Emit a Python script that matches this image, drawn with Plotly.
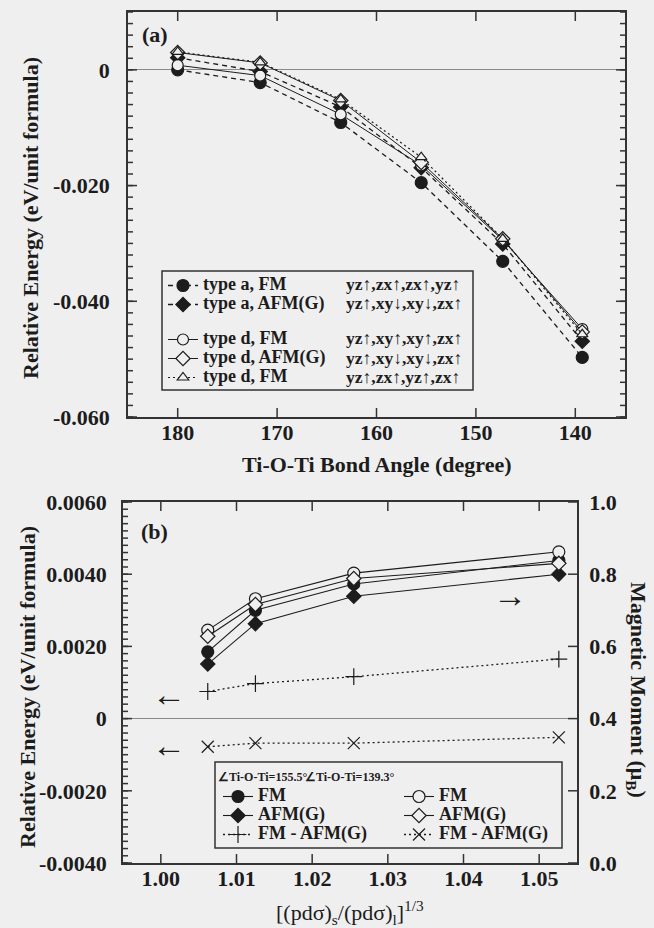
import plotly.graph_objects as go

# ---------------- data ----------------
# panel (a): relative energy vs Ti-O-Ti bond angle
angle = [180.0, 171.7, 163.6, 155.5, 147.3, 139.3]
a_fm = [0.0000, -0.0022, -0.0091, -0.0195, -0.0331, -0.0497]
a_afm = [0.0021, -0.0003, -0.0064, -0.0169, -0.0301, -0.0469]
d_fm = [0.0008, -0.0010, -0.0077, -0.0165, -0.0294, -0.0448]
d_afm = [0.0030, 0.0012, -0.0053, -0.0160, -0.0292, -0.0453]
d_fm2 = [0.0031, 0.0013, -0.0051, -0.0151, -0.0292, -0.0457]

names_a = ["type a, FM", "type a, AFM(G)", "type d, FM", "type d, AFM(G)", "type d, FM"]
orbitals_a = ["yz↑,zx↑,zx↑,yz↑", "yz↑,xy↓,xy↓,zx↑", "yz↑,xy↑,xy↑,zx↑",
              "yz↑,xy↓,xy↓,zx↑", "yz↑,zx↑,yz↑,zx↑"]

# panel (b): magnetic moment (right axis) and energy difference (left axis)
ratio = [1.0062, 1.0125, 1.0255, 1.0526]
mm_fm_155 = [0.585, 0.700, 0.773, 0.838]
mm_afm_155 = [0.551, 0.663, 0.739, 0.800]
mm_fm_139 = [0.645, 0.732, 0.803, 0.862]
mm_afm_139 = [0.628, 0.716, 0.788, 0.830]
de_155 = [0.00075, 0.00097, 0.00116, 0.00165]
de_139 = [-0.00078, -0.00068, -0.00068, -0.00052]

xt_a = [180, 170, 160, 150, 140]
yt_a = [0, -0.02, -0.04, -0.06]
yt_a_text = ["0", "-0.020", "-0.040", "-0.060"]
xt_b = [1.00, 1.01, 1.02, 1.03, 1.04, 1.05]
xt_b_text = ["1.00", "1.01", "1.02", "1.03", "1.04", "1.05"]
yt_b = [-0.004, -0.002, 0, 0.002, 0.004, 0.006]
yt_b_text = ["-0.0040", "-0.0020", "0", "0.0020", "0.0040", "0.0060"]
yt_m = [0.0, 0.2, 0.4, 0.6, 0.8, 1.0]
yt_m_text = ["0.0", "0.2", "0.4", "0.6", "0.8", "1.0"]

# axis ranges
xr_a = [185, 135]
yr_a = [-0.06, 0.01]
xr_b = [0.995, 1.055]
yr_b = [-0.004, 0.006]
yr_m = [0.0, 1.0]

# minor tick positions (axis decoration)
minor_a = [round(-0.06 + 0.002 * i, 4) for i in range(36)]
minor_b = [round(-0.004 + 0.0002 * i, 5) for i in range(51)]

# ---------------- style ----------------
W, H = 654, 928
BG = "#efefef"
INK = "#1c1c1c"
AX = "#333333"
FONT = "Liberation Serif"
DASH = "5px,4px"
DOT = "2px,3px"

# panel frames in pixels
A_L, A_R, A_T, A_B = 128, 625, 12, 417
B_L, B_R, B_T, B_B = 123, 577, 502, 863


def px(x):
    return x / W


def py(y):
    return 1 - y / H


def big(s, size=18):
    return f'<span style="font-size:{size}px">{s}</span>'


fig = go.Figure()


def add_line(x, y, name, symbol, dash, fill, xa, ya, legend, group=None, size=11, width=1.3):
    fig.add_trace(go.Scatter(
        x=x, y=y, name=big(name), mode="lines+markers",
        line=dict(color=INK, width=width, dash=dash),
        marker=dict(symbol=symbol, size=size, color=fill,
                    line=dict(color=INK, width=1.2)),
        xaxis=xa, yaxis=ya, legend=legend, legendgroup=group,
        showlegend=True))


# panel (a)
add_line(angle, a_fm, names_a[0], "circle", DASH, INK, "x", "y", "legend", "a", size=12)
add_line(angle, a_afm, names_a[1], "diamond", DASH, INK, "x", "y", "legend", "a", size=11)
add_line(angle, d_fm, names_a[2], "circle", "solid", BG, "x", "y", "legend", "d", size=11, width=1.0)
add_line(angle, d_afm, names_a[3], "diamond", "solid", BG, "x", "y", "legend", "d", size=11, width=1.0)
add_line(angle, d_fm2, names_a[4], "triangle-up", DOT, BG, "x", "y", "legend", "d", size=10, width=1.2)

# panel (b)
add_line(ratio, mm_fm_155, "FM", "circle", "solid", INK, "x2", "y3", "legend2", size=12, width=1.1)
add_line(ratio, mm_afm_155, "AFM(G)", "diamond", "solid", INK, "x2", "y3", "legend2", size=11, width=1.1)
add_line(ratio, de_155, "FM - AFM(G)", "cross-thin-open", DOT, INK, "x2", "y2", "legend2", size=12, width=1.3)
add_line(ratio, mm_fm_139, "FM", "circle", "solid", BG, "x2", "y3", "legend3", size=12, width=1.1)
add_line(ratio, mm_afm_139, "AFM(G)", "diamond", "solid", BG, "x2", "y3", "legend3", size=11, width=1.1)
add_line(ratio, de_139, "FM - AFM(G)", "x-thin-open", DOT, INK, "x2", "y2", "legend3", size=12, width=1.3)

tickfont = dict(family=FONT, size=22, color=INK, weight="bold")
common = dict(showgrid=False, showline=True, linecolor=AX, linewidth=1.6,
              ticks="", showticklabels=True, tickfont=tickfont, layer="above traces")

fig.update_layout(
    template="none",
    width=W, height=H,
    margin=dict(l=0, r=0, t=0, b=0, autoexpand=False),
    paper_bgcolor=BG, plot_bgcolor=BG,
    font=dict(family=FONT, color=INK),
    xaxis=dict(domain=[px(A_L), px(A_R)], range=xr_a, anchor="y",
               tickvals=xt_a, mirror=True, zeroline=False,
               ticklabelstandoff=-5, **common),
    yaxis=dict(domain=[py(A_B), py(A_T)], range=yr_a, anchor="x",
               tickvals=yt_a, ticktext=yt_a_text, mirror=True,
               ticklabelstandoff=12,
               zeroline=True, zerolinecolor="#8a8a8a", zerolinewidth=1.2, **common),
    xaxis2=dict(domain=[px(B_L), px(B_R)], range=xr_b, anchor="y2",
                tickvals=xt_b, ticktext=xt_b_text, mirror=True, zeroline=False,
                ticklabelstandoff=-5, **common),
    yaxis2=dict(domain=[py(B_B), py(B_T)], range=yr_b, anchor="x2",
                tickvals=yt_b, ticktext=yt_b_text, ticklabelstandoff=10,
                zeroline=True, zerolinecolor="#8a8a8a", zerolinewidth=1.2, **common),
    yaxis3=dict(overlaying="y2", side="right", range=yr_m, anchor="x2",
                tickvals=yt_m, ticktext=yt_m_text, ticklabelstandoff=6,
                zeroline=False, **common),
    legend=dict(x=px(163), y=py(271), xanchor="left", yanchor="top",
                bgcolor="rgba(0,0,0,0)", borderwidth=0, itemwidth=30,
                font=dict(family=FONT, size=12, color=INK, weight="bold"),
                traceorder="grouped", tracegroupgap=16, itemclick=False),
    legend2=dict(x=px(218), y=py(782), xanchor="left", yanchor="top",
                 bgcolor="rgba(0,0,0,0)", borderwidth=0, itemwidth=30,
                 font=dict(family=FONT, size=12, color=INK, weight="bold")),
    legend3=dict(x=px(399), y=py(782), xanchor="left", yanchor="top",
                 bgcolor="rgba(0,0,0,0)", borderwidth=0, itemwidth=30,
                 font=dict(family=FONT, size=12, color=INK, weight="bold")),
)

# ---------------- tick marks as shapes (inside the frame) ----------------
shapes = []
TL_MAJ, TL_MIN = 9, 5
TICK = dict(color=AX, width=1.5)


def yticks(vals, yref, xdom, length, width_px, side):
    f = length / width_px
    for v in vals:
        x0, x1 = (0, f) if side == "left" else (1 - f, 1)
        shapes.append(dict(type="line", xref=xdom, yref=yref, x0=x0, x1=x1,
                           y0=v, y1=v, line=TICK, layer="above"))


def xticks(vals, xref, ydom, length, height_px):
    f = length / height_px
    for v in vals:
        for y0, y1 in ((0, f), (1 - f, 1)):
            shapes.append(dict(type="line", xref=xref, yref=ydom, x0=v, x1=v,
                               y0=y0, y1=y1, line=TICK, layer="above"))


wa, ha = A_R - A_L, A_B - A_T
wb, hb = B_R - B_L, B_B - B_T
for side in ("left", "right"):
    yticks(yt_a, "y", "x domain", TL_MAJ, wa, side)
    yticks(minor_a, "y", "x domain", TL_MIN, wa, side)
xticks(xt_a, "x", "y domain", TL_MAJ, ha)
yticks(yt_b, "y2", "x2 domain", TL_MAJ, wb, "left")
yticks(minor_b, "y2", "x2 domain", TL_MIN, wb, "left")
yticks(yt_m, "y3", "x2 domain", TL_MAJ, wb, "right")
xticks(xt_b, "x2", "y2 domain", TL_MAJ, hb)

# legend frames
shapes.append(dict(type="rect", xref="paper", yref="paper",
                   x0=px(162), x1=px(473), y0=py(390), y1=py(271),
                   line=dict(color=AX, width=1.5), fillcolor="rgba(0,0,0,0)"))
shapes.append(dict(type="rect", xref="paper", yref="paper",
                   x0=px(215), x1=px(562), y0=py(848), y1=py(762),
                   line=dict(color=AX, width=1.5), fillcolor="rgba(0,0,0,0)"))
fig.update_layout(shapes=shapes)

ann = []
bold = dict(family=FONT, size=22, color=INK, weight="bold")


def note(text, x, y, font, ref="paper", angle=0, xanchor="center", yanchor="middle"):
    if ref == "paper":
        x, y, xr, yr = px(x), py(y), "paper", "paper"
    else:
        xr, yr = ref
    ann.append(dict(text=text, x=x, y=y, xref=xr, yref=yr, textangle=angle,
                    xanchor=xanchor, yanchor=yanchor, font=font, showarrow=False))


# axis titles
note("Relative Energy (eV/unit formula)", 30, 218, bold, angle=-90)
note("Ti-O-Ti Bond Angle (degree)", 377, 464, bold)
note("Relative Energy (eV/unit formula)", 27, 687, bold, angle=-90)
note("Magnetic Moment (μ<sub>B</sub>)", 637, 690, bold, angle=90)
note("[(pdσ)<sub>s</sub>/(pdσ)<sub>l</sub>]<sup>1/3</sup>", 350, 912,
     dict(family=FONT, size=22, color=INK))
# panel labels
note("(a)", 140, 34, bold, xanchor="left")
note("(b)", 139, 531, bold, xanchor="left")
# orbital column of legend (a)
rows_a = [284, 303, 338, 357.5, 376.5]
for r, t in zip(rows_a, orbitals_a):
    note(t, 344, r, dict(family=FONT, size=17.5, color=INK, weight="bold"), xanchor="left")
# legend (b) title row
tfont = dict(family=FONT, size=12, color=INK, weight="bold")
note("∠Ti-O-Ti=155.5°", 216, 777, tfont, xanchor="left")
note("∠Ti-O-Ti=139.3°", 303, 777, tfont, xanchor="left")
# axis arrows in (b)
arrow_font = dict(family=FONT, size=34, color=INK)
note("→", 1.0462, 0.00341, arrow_font, ref=("x2", "y2"))
note("←", 1.0011, 0.00066, arrow_font, ref=("x2", "y2"))
note("←", 1.0011, -0.00074, arrow_font, ref=("x2", "y2"))

fig.update_layout(annotations=ann)
fig.write_html("out.html")
